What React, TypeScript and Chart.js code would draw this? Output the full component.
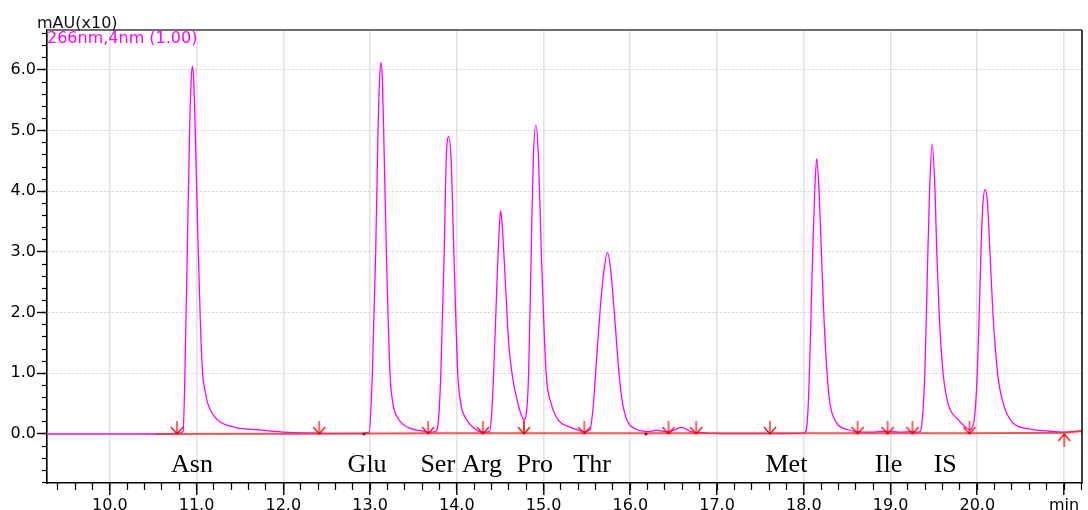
import { useEffect, useRef } from "react";
import { Chart, registerables } from "chart.js";

Chart.register(...registerables);

// ---------- data (time in min, signal in mAU x10) ----------
const leadTrace: [number, number][] = [[9.276, 0], [10.0, 0], [10.5, 0], [10.78, 0.01]];
const asnTrace: [number, number][] = [[10.845, 0.04], [10.866, 1.0], [10.893, 3.0], [10.92, 5.0], [10.937, 5.8], [10.952, 6.06], [10.968, 5.8], [10.985, 5.0], [11.02, 3.0], [11.045, 1.8], [11.07, 1.0], [11.1, 0.7], [11.13, 0.5], [11.23, 0.25], [11.41, 0.12], [11.72, 0.066], [12.0, 0.03], [12.4, 0.015], [12.9, 0.01]];
const gluTrace: [number, number][] = [[12.99, 0.03], [13.027, 1.0], [13.065, 3.0], [13.092, 5.0], [13.11, 5.85], [13.126, 6.12], [13.142, 5.85], [13.157, 5.0], [13.188, 3.0], [13.23, 1.0], [13.264, 0.5], [13.326, 0.25], [13.448, 0.1], [13.6, 0.05], [13.67, 0.03]];
const serTrace: [number, number][] = [[13.755, 0.04], [13.79, 0.25], [13.816, 1.0], [13.855, 3.0], [13.877, 4.5], [13.908, 4.9], [13.935, 4.5], [13.966, 3.0], [14.011, 1.0], [14.046, 0.5], [14.107, 0.25], [14.195, 0.1], [14.3, 0.03]];
const argTrace: [number, number][] = [[14.376, 0.04], [14.4, 0.3], [14.425, 1.0], [14.463, 2.5], [14.49, 3.4], [14.506, 3.68], [14.525, 3.4], [14.56, 2.5], [14.598, 1.5], [14.636, 1.0], [14.705, 0.5], [14.774, 0.24]];
const proTrace: [number, number][] = [[14.8, 0.32], [14.828, 1.0], [14.858, 3.0], [14.881, 4.5], [14.912, 5.09], [14.943, 4.5], [14.974, 3.0], [15.03, 1.0], [15.088, 0.5], [15.17, 0.23], [15.29, 0.12], [15.44, 0.05], [15.47, 0.04]];
const thrTrace: [number, number][] = [[15.536, 0.07], [15.575, 0.5], [15.6, 1.0], [15.65, 2.0], [15.697, 2.7], [15.736, 2.99], [15.774, 2.7], [15.816, 2.0], [15.87, 1.0], [15.912, 0.5], [15.97, 0.2], [16.05, 0.09], [16.13, 0.05], [16.22, 0.04], [16.3, 0.065], [16.4, 0.04], [16.5, 0.06], [16.59, 0.11], [16.7, 0.04], [16.85, 0.02], [16.97, 0.01], [17.5, 0.005], [17.95, 0.01]];
const metTrace: [number, number][] = [[18.008, 0.02], [18.04, 0.2], [18.065, 1.0], [18.084, 2.0], [18.103, 3.0], [18.126, 4.0], [18.149, 4.54], [18.176, 4.0], [18.203, 3.0], [18.23, 2.0], [18.268, 1.0], [18.302, 0.5], [18.371, 0.2], [18.506, 0.07], [18.62, 0.04], [18.8, 0.03], [18.95, 0.045], [19.1, 0.03], [19.25, 0.04], [19.3, 0.03]];
const isTrace: [number, number][] = [[19.341, 0.04], [19.37, 0.3], [19.395, 1.0], [19.414, 2.0], [19.43, 3.0], [19.45, 4.0], [19.479, 4.78], [19.513, 4.0], [19.533, 3.0], [19.56, 2.0], [19.606, 1.0], [19.663, 0.5], [19.77, 0.25], [19.86, 0.12], [19.91, 0.07]];
const lastTrace: [number, number][] = [[19.94, 0.1], [19.97, 0.3], [20.0, 1.0], [20.023, 2.0], [20.042, 3.0], [20.065, 3.8], [20.092, 4.03], [20.118, 3.8], [20.146, 3.0], [20.18, 2.0], [20.234, 1.0], [20.3, 0.5], [20.4, 0.2], [20.61, 0.08], [20.8, 0.05], [21.0, 0.03], [21.1, 0.04], [21.207, 0.05]];

const baselineTrace: [number, number][] = [[10.53, 0], [12.41, 0.005], [13.67, 0.01], [14.3, 0.01], [15.47, 0.01], [16.18, 0.01], [17.61, 0.01], [18.62, 0.01], [19.253, 0.01], [19.91, 0.01], [21.003, 0.02], [21.207, 0.05]];
const dropLine: [number, number][] = [[14.774, 0], [14.774, 0.24]];
const markTimes = [12.93, 16.18];

const downArrowTimes = [10.774, 12.414, 13.67, 14.3, 14.774, 15.47, 16.44, 16.76, 17.61, 18.62, 18.966, 19.253, 19.91];
const upArrowTimes = [21.003];

const peakNames = ["Asn", "Glu", "Ser", "Arg", "Pro", "Thr", "Met", "Ile", "IS"];
const peakLabelTimes = [10.948, 12.966, 13.78, 14.29, 14.9, 15.56, 17.8, 18.977, 19.63];

const xMajorTicks = [10, 11, 12, 13, 14, 15, 16, 17, 18, 19, 20, 21];
const xTickLabels = ["10.0", "11.0", "12.0", "13.0", "14.0", "15.0", "16.0", "17.0", "18.0", "19.0", "20.0", "min"];
const yMajorTicks = [0, 1, 2, 3, 4, 5, 6];
const yTickLabels = ["0.0", "1.0", "2.0", "3.0", "4.0", "5.0", "6.0"];

const X_MIN = 9.276;
const X_MAX = 21.207;
const Y_MIN = -0.808;
const Y_MAX = 6.659;
const MINOR_STEP = 0.2;
const LABEL_LEVEL = -0.62;

const SANS = '"DejaVu Sans", Verdana, sans-serif';

function toXY(arr: [number, number][]) {
  return arr.map(([x, y]) => ({ x, y }));
}

function minorTicks(min: number, max: number) {
  const out: { value: number }[] = [];
  const start = Math.ceil(min / MINOR_STEP - 1e-9);
  const end = Math.floor(max / MINOR_STEP + 1e-9);
  for (let i = start; i <= end; i++) out.push({ value: Math.round(i * MINOR_STEP * 1000) / 1000 });
  return out;
}

function makeArrow(up: boolean) {
  const c = document.createElement("canvas");
  c.width = 16;
  c.height = 30;
  const g = c.getContext("2d")!;
  g.strokeStyle = "#ff0000";
  g.lineWidth = 1.2;
  const cx = 8;
  const cy = 15;
  g.beginPath();
  if (!up) {
    g.moveTo(cx, cy - 13);
    g.lineTo(cx, cy);
    g.moveTo(cx - 6, cy - 7);
    g.lineTo(cx, cy);
    g.lineTo(cx + 6, cy - 7);
  } else {
    g.moveTo(cx, cy + 13);
    g.lineTo(cx, cy);
    g.moveTo(cx - 6, cy + 7);
    g.lineTo(cx, cy);
    g.lineTo(cx + 6, cy + 7);
  }
  g.stroke();
  return c;
}

const textPlugin = {
  id: "chromText",
  afterDatasetsDraw(chart: any) {
    const { ctx, scales } = chart;
    const xs = scales.x;
    const ys = scales.y;
    ctx.save();
    ctx.font = '26px "Liberation Serif", "Times New Roman", serif';
    ctx.fillStyle = "#000";
    ctx.textAlign = "center";
    ctx.textBaseline = "alphabetic";
    peakNames.forEach((n, i) => {
      ctx.fillText(n, xs.getPixelForValue(peakLabelTimes[i]), ys.getPixelForValue(LABEL_LEVEL));
    });
    ctx.restore();
  },
  afterDraw(chart: any) {
    const { ctx, chartArea } = chart;
    ctx.save();
    ctx.strokeStyle = "#6e6e6e";
    ctx.lineWidth = 2;
    ctx.beginPath();
    ctx.moveTo(chartArea.left, chartArea.top);
    ctx.lineTo(chartArea.right, chartArea.top);
    ctx.stroke();
    ctx.strokeStyle = "#000";
    ctx.lineWidth = 1.5;
    ctx.beginPath();
    ctx.moveTo(chartArea.right, chartArea.top);
    ctx.lineTo(chartArea.right, chartArea.bottom);
    ctx.stroke();
    ctx.font = `16px ${SANS}`;
    ctx.textAlign = "left";
    ctx.textBaseline = "alphabetic";
    ctx.fillStyle = "#111";
    ctx.fillText("mAU(x10)", chartArea.left - 10, chartArea.top - 2);
    ctx.fillStyle = "#ff00ff";
    ctx.fillText("266nm,4nm (1.00)", chartArea.left, chartArea.top + 13);
    ctx.restore();
  },
};

export default function App() {
  const ref = useRef<HTMLCanvasElement | null>(null);

  useEffect(() => {
    if (!ref.current) return;
    const signal = [
      ...leadTrace, ...asnTrace, ...gluTrace, ...serTrace, ...argTrace, ...proTrace,
      ...thrTrace, ...metTrace, ...isTrace, ...lastTrace,
    ];
    const downArrow = makeArrow(false);
    const upArrow = makeArrow(true);

    const chart = new Chart(ref.current, {
      type: "line",
      data: {
        datasets: [
          {
            label: "arrows down",
            data: downArrowTimes.map((t) => ({ x: t, y: 0 })),
            showLine: false,
            pointStyle: downArrow as any,
            pointRadius: 5,
            order: 0,
          },
          {
            label: "arrows up",
            data: upArrowTimes.map((t) => ({ x: t, y: 0 })),
            showLine: false,
            pointStyle: upArrow as any,
            pointRadius: 5,
            order: 0,
          },
          {
            label: "marks",
            data: markTimes.map((t) => ({ x: t, y: 0 })),
            showLine: false,
            pointRadius: 1.6,
            pointBackgroundColor: "#b00000",
            pointBorderWidth: 0,
            order: 1,
          },
          {
            label: "drop",
            data: toXY(dropLine),
            borderColor: "#ff1a1a",
            borderWidth: 1.2,
            pointRadius: 0,
            order: 2,
          },
          {
            label: "baseline",
            data: toXY(baselineTrace),
            borderColor: "rgba(255,50,50,0.85)",
            borderWidth: 2,
            pointRadius: 0,
            tension: 0,
            order: 3,
          },
          {
            label: "266nm",
            data: toXY(signal),
            borderColor: "#ff00ff",
            borderWidth: 1.3,
            pointRadius: 0,
            cubicInterpolationMode: "monotone",
            order: 4,
          },
        ],
      },
      options: {
        animation: false,
        responsive: false,
        events: [],
        layout: { padding: { top: 30, right: 3, left: 0, bottom: 0 } },
        plugins: {
          legend: { display: false },
          tooltip: { enabled: false },
          title: { display: false },
        },
        scales: {
          x: {
            type: "linear",
            position: "bottom",
            min: X_MIN,
            max: X_MAX,
            weight: 10,
            afterBuildTicks: (s: any) => {
              s.ticks = xMajorTicks.map((v) => ({ value: v }));
            },
            afterFit: (s: any) => {
              s.height = 27;
            },
            ticks: {
              autoSkip: false,
              maxRotation: 0,
              padding: 1.5,
              color: "#000",
              font: { family: SANS, size: 16 },
              callback: (v: any) => {
                const i = xMajorTicks.indexOf(Math.round(Number(v) * 10) / 10);
                return i >= 0 ? xTickLabels[i] : "";
              },
            },
            grid: {
              color: "#e2e2e2",
              lineWidth: 1.6,
              drawTicks: true,
              tickLength: 12,
              tickColor: "#000",
              tickWidth: 1.4,
            },
            border: { display: true, color: "#000", width: 1.6 },
          },
          xMinor: {
            type: "linear",
            position: "bottom",
            min: X_MIN,
            max: X_MAX,
            weight: 0,
            afterBuildTicks: (s: any) => {
              s.ticks = minorTicks(X_MIN, X_MAX);
            },
            afterFit: (s: any) => {
              s.height = 0;
            },
            ticks: { display: false, autoSkip: false },
            grid: {
              drawOnChartArea: false,
              drawTicks: true,
              tickLength: 7,
              tickColor: "#000",
              tickWidth: 1.2,
            },
            border: { display: false },
          },
          y: {
            type: "linear",
            position: "left",
            min: Y_MIN,
            max: Y_MAX,
            weight: 10,
            afterBuildTicks: (s: any) => {
              s.ticks = yMajorTicks.map((v) => ({ value: v }));
            },
            afterFit: (s: any) => {
              s.width = 47;
            },
            ticks: {
              autoSkip: false,
              padding: 1,
              color: "#000",
              font: { family: SANS, size: 16 },
              callback: (v: any) => {
                const i = yMajorTicks.indexOf(Math.round(Number(v)));
                return i >= 0 ? yTickLabels[i] : "";
              },
            },
            grid: {
              color: "#d0d0d0",
              lineWidth: 1,
              drawTicks: true,
              tickLength: 10,
              tickColor: "#000",
              tickWidth: 1.4,
            },
            border: { display: true, color: "#000", width: 1.6, dash: [2, 2] },
          },
          yMinor: {
            type: "linear",
            position: "left",
            min: Y_MIN,
            max: Y_MAX,
            weight: 0,
            afterBuildTicks: (s: any) => {
              s.ticks = minorTicks(Y_MIN, Y_MAX);
            },
            afterFit: (s: any) => {
              s.width = 0;
            },
            ticks: { display: false, autoSkip: false },
            grid: {
              drawOnChartArea: false,
              drawTicks: true,
              tickLength: 5,
              tickColor: "#000",
              tickWidth: 1.2,
            },
            border: { display: false },
          },
        },
      },
      plugins: [textPlugin],
    });
    return () => chart.destroy();
  }, []);

  return (
    <div style={{ position: "fixed", left: 0, top: 0, width: 1088, height: 510, background: "#fff" }}>
      <canvas ref={ref} width={1088} height={510} style={{ width: 1088, height: 510, display: "block" }} />
    </div>
  );
}
